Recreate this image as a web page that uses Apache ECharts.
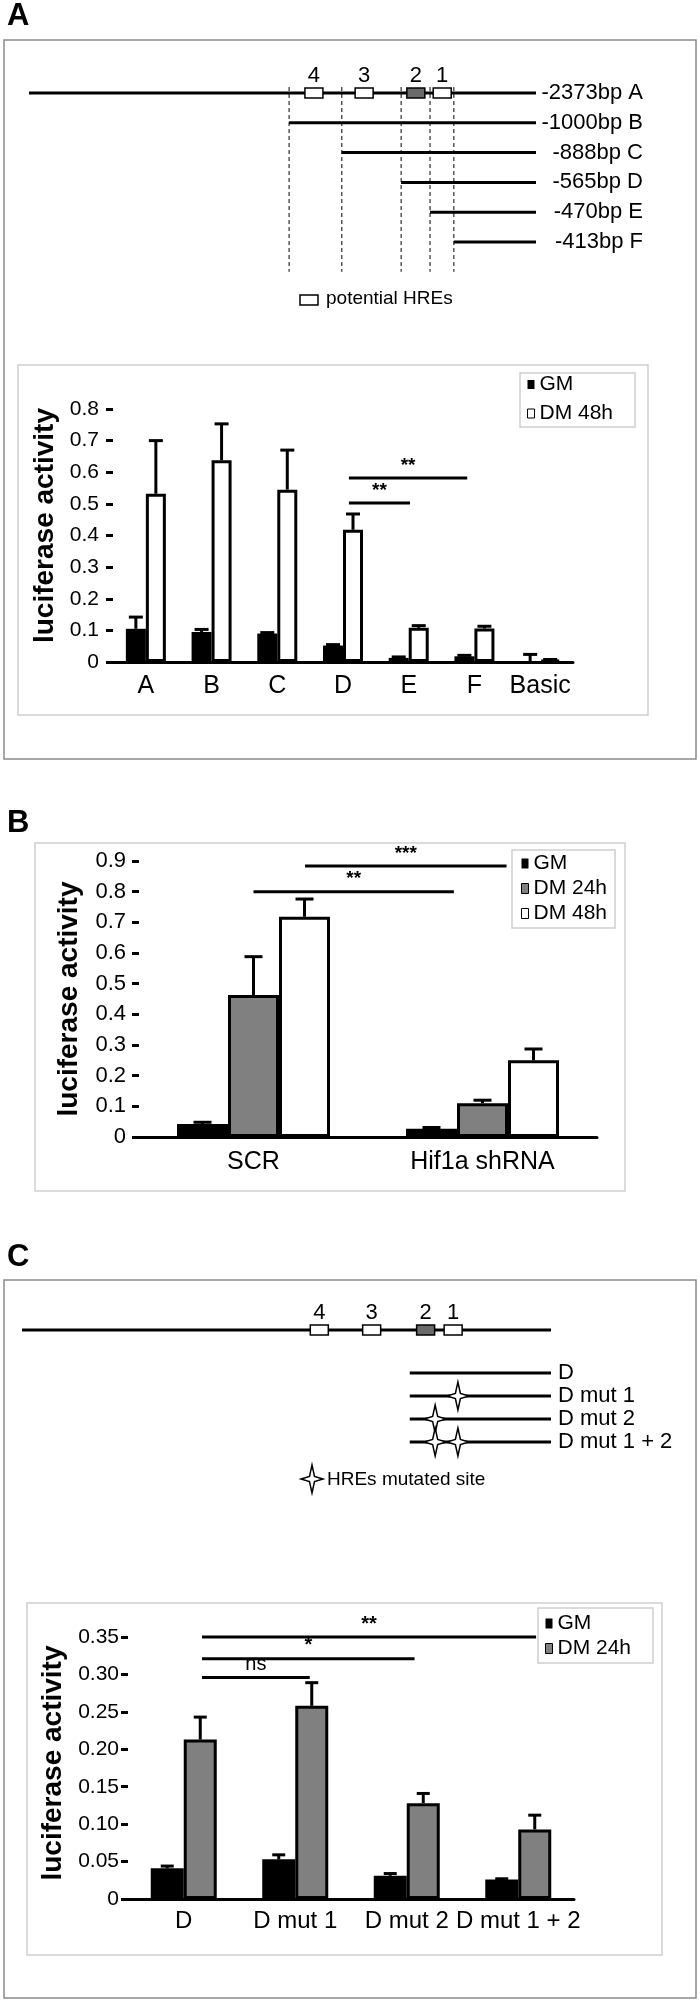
<!DOCTYPE html>
<html lang="en">
<head>
    <meta charset="UTF-8" />
    <title>HRE promoter luciferase</title>
    <script src="https://cdn.jsdelivr.net/npm/echarts@6/dist/echarts.min.js"></script>
    <style>
        body { margin: 0; background: #fff; }
    </style>
</head>
<body>
<div id="main" style="width: 700px;height:2000px;"></div>
<script type="text/javascript">
    // ---- panel A : promoter deletion constructs (schematic position, 0 = -2373bp, 100 = TSS)
    var fragNames = ['-2373bp A', '-1000bp B', '-888bp C', '-565bp D', '-470bp E', '-413bp F'];
    var fragStart = [0, 51.3, 61.7, 73.4, 79.1, 83.8];
    var hreNames = ['4', '3', '2', '1'];
    var hrePos = [56.2, 66.1, 76.3, 81.5];
    var hreCore = [false, false, true, false];

    // ---- panel A : luciferase
    var catsA = ['A', 'B', 'C', 'D', 'E', 'F', 'Basic'];
    var gmA = [0.105, 0.095, 0.09, 0.052, 0.013, 0.018, 0.003];
    var gmAErr = [0.037, 0.008, 0.003, 0.003, 0.003, 0.003, 0.021];
    var dm48A = [0.532, 0.638, 0.545, 0.418, 0.108, 0.106, 0.006];
    var dm48AErr = [0.168, 0.115, 0.125, 0.05, 0.007, 0.007, 0.002];
    // [from, to] in category units, y value, label
    var sigA = [[3.09, 4.89, 0.582, '**'], [3.09, 4.02, 0.503, '**']];

    // ---- panel B
    var catsB = ['SCR', 'Hif1a shRNA'];
    var gmB = [0.042, 0.027];
    var gmBErr = [0.006, 0.004];
    var dm24B = [0.463, 0.11];
    var dm24BErr = [0.125, 0.01];
    var dm48B = [0.718, 0.25];
    var dm48BErr = [0.058, 0.037];
    var sigB = [[0.0, 0.875, 0.80, '**'], [0.225, 1.105, 0.884, '***']];

    // ---- panel C : mutated constructs
    var consNames = ['D', 'D mut 1', 'D mut 2', 'D mut 1 + 2'];
    var consStart = 73.3;
    var mutSites = [[], [1], [2], [1, 2]];
    var mutPos = {1: 82.4, 2: 78.1};

    var catsC = ['D', 'D mut 1', 'D mut 2', 'D mut 1 + 2'];
    var gmC = [0.041, 0.053, 0.031, 0.026];
    var gmCErr = [0.003, 0.006, 0.003, 0.001];
    var dm24C = [0.213, 0.258, 0.128, 0.093];
    var dm24CErr = [0.03, 0.031, 0.013, 0.019];
    var sigC = [[0.164, 1.13, 0.296, 'ns'], [0.164, 2.07, 0.321, '*'], [0.164, 3.16, 0.35, '**']];

    var FONT = '"Liberation Sans", Arial, sans-serif';
    var GREY = '#808080';

    var myChart = echarts.init(document.getElementById('main'), null, {renderer: 'canvas'});

    function starPoints(cx, cy) {
        var h = 14, w = 11, k = 2.5;
        return [[cx, cy - h], [cx + k, cy - k], [cx + w, cy], [cx + k, cy + k],
                [cx, cy + h], [cx - k, cy + k], [cx - w, cy], [cx - k, cy - k]];
    }

    // error bars drawn over the k-th of n bars
    function errSeries(name, grid, vals, errs, k, n, bw, cap) {
        return {
            name: name, type: 'custom', xAxisIndex: grid, yAxisIndex: grid, z: 5,
            data: vals.map(function (v, i) { return [i, v, v + errs[i]]; }),
            renderItem: function (params, api) {
                var p0 = api.coord([api.value(0), api.value(1)]);
                var p1 = api.coord([api.value(0), api.value(2)]);
                var x = p0[0] + (k - (n - 1) / 2) * bw;
                return {
                    type: 'group', children: [
                        {type: 'line', shape: {x1: x, y1: p0[1], x2: x, y2: p1[1]}, style: {stroke: '#000', lineWidth: 3}},
                        {type: 'line', shape: {x1: x - cap / 2, y1: p1[1], x2: x + cap / 2, y2: p1[1]}, style: {stroke: '#000', lineWidth: 3}}
                    ]
                };
            }
        };
    }

    // significance lines
    function sigSeries(grid, rows, fontSize) {
        return {
            name: 'sig' + grid, type: 'custom', xAxisIndex: grid, yAxisIndex: grid, z: 6,
            data: rows.map(function (r) { return [r[0], r[1], r[2]]; }),
            renderItem: function (params, api) {
                var r = rows[params.dataIndex];
                var band = api.size([1, 0])[0];
                var base = api.coord([0, r[2]]);
                var x1 = base[0] + r[0] * band, x2 = base[0] + r[1] * band;
                var bold = r[3] === 'ns' ? 'normal' : 'bold';
                return {
                    type: 'group', children: [
                        {type: 'line', shape: {x1: x1, y1: base[1], x2: x2, y2: base[1]}, style: {stroke: '#000', lineWidth: 3}},
                        {type: 'text', style: {text: r[3], x: (x1 + x2) / 2, y: base[1] - 3, align: 'center', verticalAlign: 'bottom',
                            font: bold + ' ' + fontSize + 'px ' + FONT, fill: '#000'}}
                    ]
                };
            }
        };
    }

    function hreSeries(grid) {
        return {
            name: 'hre' + grid, type: 'custom', xAxisIndex: grid, yAxisIndex: grid, z: 4,
            data: hrePos.map(function (p, i) { return [p, 0]; }),
            renderItem: function (params, api) {
                var c = api.coord([api.value(0), 0]);
                var i = params.dataIndex;
                return {
                    type: 'group', children: [
                        {type: 'rect', shape: {x: c[0] - 9, y: c[1] - 5, width: 18, height: 10},
                            style: {fill: hreCore[i] ? '#6a6a6a' : '#fff', stroke: '#000', lineWidth: 1.5}},
                        {type: 'text', style: {text: hreNames[i], x: c[0], y: c[1] - 17, align: 'center', verticalAlign: 'middle',
                            font: '22px ' + FONT, fill: '#000'}}
                    ]
                };
            }
        };
    }

    var axisBase = {
        axisLine: {lineStyle: {color: '#000', width: 3}},
        splitLine: {show: false}
    };

    function catAxis(grid, cats, size, margin) {
        return echarts.util.merge({
            type: 'category', gridIndex: grid, data: cats,
            axisTick: {length: 9, lineStyle: {width: 3, color: '#000'}},
            axisLabel: {color: '#000', fontSize: size, fontFamily: FONT, margin: margin, interval: 0}
        }, axisBase, true);
    }

    function valAxis(grid, max, interval, size, margin, gap, pad, fmt) {
        return echarts.util.merge({
            type: 'value', gridIndex: grid, min: 0, max: max, interval: interval,
            name: 'luciferase activity', nameLocation: 'middle', nameGap: gap, nameRotate: 90,
            nameTextStyle: {color: '#000', fontSize: 28, fontWeight: 'bold', fontFamily: FONT, padding: pad},
            axisTick: {show: true, length: 7, lineStyle: {width: 3, color: '#000'}},
            axisLabel: {color: '#000', fontSize: size, fontFamily: FONT, margin: margin, formatter: fmt}
        }, axisBase, true);
    }

    var hidX = function (g) { return {type: 'value', gridIndex: g, min: 0, max: 100, show: false}; };

    var option = {
        animation: false,
        textStyle: {fontFamily: FONT},
        grid: [
            {left: 29, width: 507, top: 93, height: 149},        // 0 diagram A
            {left: 113, width: 460, top: 409, height: 253},      // 1 chart A
            {left: 139, width: 458, top: 861, height: 276},      // 2 chart B
            {left: 22, width: 529, top: 1320, height: 20},       // 3 diagram C promoter
            {left: 22, width: 529, top: 1373, height: 69},       // 4 diagram C constructs
            {left: 128, width: 446, top: 1637, height: 262}      // 5 chart C
        ],
        xAxis: [
            hidX(0),
            catAxis(1, catsA, 25, 12),
            catAxis(2, catsB, 25, 13),
            hidX(3),
            hidX(4),
            catAxis(5, catsC, 24, 10)
        ],
        yAxis: [
            {type: 'value', gridIndex: 0, min: 0, max: 5, inverse: true, show: false},
            valAxis(1, 0.8, 0.1, 21, 14, 50, [0, 0, 0, 20]),
            valAxis(2, 0.9, 0.1, 22, 13, 56, [0, 0, 0, 0]),
            {type: 'value', gridIndex: 3, min: -1, max: 1, inverse: true, show: false},
            {type: 'value', gridIndex: 4, min: 0, max: 3, inverse: true, show: false},
            valAxis(5, 0.35, 0.05, 21, 9, 58, [0, 0, 0, 10], function (v) { return v === 0 ? '0' : v.toFixed(2); })
        ],
        legend: [
            {
                orient: 'vertical', left: 520, top: 373, padding: [1, 22, 3, 7], itemGap: 8,
                itemWidth: 7, itemHeight: 9, borderColor: '#cfcfcf', borderWidth: 1.5, backgroundColor: '#fff',
                selectedMode: false, textStyle: {fontSize: 21, color: '#000', fontFamily: FONT},
                data: [
                    {name: 'GM', icon: 'rect', itemStyle: {color: '#000', borderWidth: 0}},
                    {name: 'DM 48h', icon: 'rect', itemStyle: {color: '#fff', borderColor: '#000', borderWidth: 1}}
                ]
            },
            {
                orient: 'vertical', left: 512, top: 850, padding: [3, 8, 4, 9], itemGap: 4,
                itemWidth: 7, itemHeight: 10, borderColor: '#cfcfcf', borderWidth: 1.5, backgroundColor: '#fff',
                selectedMode: false, textStyle: {fontSize: 21, color: '#000', fontFamily: FONT},
                data: [
                    {name: 'GM', icon: 'rect', itemStyle: {color: '#000', borderWidth: 0}},
                    {name: 'DM 24h', icon: 'rect', itemStyle: {color: GREY, borderColor: '#000', borderWidth: 1}},
                    {name: 'DM 48h', icon: 'rect', itemStyle: {color: '#fff', borderColor: '#000', borderWidth: 1}}
                ]
            },
            {
                orient: 'vertical', left: 538, top: 1608, padding: [5, 22, 4, 7], itemGap: 4,
                itemWidth: 7, itemHeight: 10, borderColor: '#cfcfcf', borderWidth: 1.5, backgroundColor: '#fff',
                selectedMode: false, textStyle: {fontSize: 21, color: '#000', fontFamily: FONT},
                data: [
                    {name: 'GM', icon: 'rect', itemStyle: {color: '#000', borderWidth: 0}},
                    {name: 'DM 24h', icon: 'rect', itemStyle: {color: GREY, borderColor: '#000', borderWidth: 1}}
                ]
            }
        ],
        graphic: [
            // panel frames
            {type: 'rect', z: 0, shape: {x: 4, y: 40, width: 692, height: 719}, style: {fill: 'none', stroke: '#8a8a8a', lineWidth: 1.5}},
            {type: 'rect', z: 0, shape: {x: 18, y: 365, width: 630, height: 350}, style: {fill: 'none', stroke: '#d0d0d0', lineWidth: 1.5}},
            {type: 'rect', z: 0, shape: {x: 35, y: 843, width: 590, height: 348}, style: {fill: 'none', stroke: '#d0d0d0', lineWidth: 1.5}},
            {type: 'rect', z: 0, shape: {x: 4, y: 1280, width: 692, height: 718}, style: {fill: 'none', stroke: '#8a8a8a', lineWidth: 1.5}},
            {type: 'rect', z: 0, shape: {x: 27, y: 1603, width: 635, height: 352}, style: {fill: 'none', stroke: '#d0d0d0', lineWidth: 1.5}},
            // panel letters
            {type: 'text', style: {text: 'A', x: 7, y: 16, verticalAlign: 'middle', font: 'bold 31px ' + FONT, fill: '#000'}},
            {type: 'text', style: {text: 'B', x: 7, y: 823, verticalAlign: 'middle', font: 'bold 31px ' + FONT, fill: '#000'}},
            {type: 'text', style: {text: 'C', x: 7, y: 1257, verticalAlign: 'middle', font: 'bold 31px ' + FONT, fill: '#000'}},
            // diagram keys
            {type: 'rect', shape: {x: 300, y: 295, width: 18, height: 10}, style: {fill: '#fff', stroke: '#000', lineWidth: 1.5}},
            {type: 'text', style: {text: 'potential HREs', x: 326, y: 299, verticalAlign: 'middle', font: '19px ' + FONT, fill: '#000'}},
            {type: 'polygon', shape: {points: starPoints(312, 1479)}, style: {fill: '#fff', stroke: '#000', lineWidth: 1.5}},
            {type: 'text', style: {text: 'HREs mutated site', x: 327, y: 1480, verticalAlign: 'middle', font: '19px ' + FONT, fill: '#000'}}
        ],
        series: [
            // diagram A: dashed guides at fragment starts
            {
                name: 'guides', type: 'custom', xAxisIndex: 0, yAxisIndex: 0, z: 1,
                data: fragStart.slice(1).map(function (s) { return [s, 0]; }),
                renderItem: function (params, api) {
                    var a = api.coord([api.value(0), -0.2]);
                    var b = api.coord([api.value(0), 6.0]);
                    return {type: 'line', shape: {x1: a[0], y1: a[1], x2: b[0], y2: b[1]},
                        style: {stroke: '#000', lineWidth: 1, lineDash: [4, 3]}};
                }
            },
            // diagram A: fragments
            {
                name: 'fragments', type: 'custom', xAxisIndex: 0, yAxisIndex: 0, z: 2,
                data: fragStart.map(function (s, i) { return [s, i]; }),
                renderItem: function (params, api) {
                    var s = api.coord([api.value(0), api.value(1)]);
                    var e = api.coord([100, api.value(1)]);
                    return {
                        type: 'group', children: [
                            {type: 'line', shape: {x1: s[0], y1: s[1], x2: e[0], y2: e[1]}, style: {stroke: '#000', lineWidth: 3}},
                            {type: 'text', style: {text: fragNames[params.dataIndex], x: e[0] + 107, y: e[1], align: 'right',
                                verticalAlign: 'middle', font: '22px ' + FONT, fill: '#000'}}
                        ]
                    };
                }
            },
            hreSeries(0),
            // chart A
            {name: 'GM', type: 'bar', xAxisIndex: 1, yAxisIndex: 1, data: gmA, barWidth: 20, barGap: '0%',
                itemStyle: {color: '#000'}},
            {name: 'DM 48h', type: 'bar', xAxisIndex: 1, yAxisIndex: 1, data: dm48A, barWidth: 20, barGap: '0%',
                itemStyle: {color: '#fff', borderColor: '#000', borderWidth: 3}},
            errSeries('errA0', 1, gmA, gmAErr, 0, 2, 20, 14),
            errSeries('errA1', 1, dm48A, dm48AErr, 1, 2, 20, 14),
            sigSeries(1, sigA, 19),
            // chart B
            {name: 'GM', type: 'bar', xAxisIndex: 2, yAxisIndex: 2, data: gmB, barWidth: 51, barGap: '0%',
                itemStyle: {color: '#000'}},
            {name: 'DM 24h', type: 'bar', xAxisIndex: 2, yAxisIndex: 2, data: dm24B, barWidth: 51, barGap: '0%',
                itemStyle: {color: GREY, borderColor: '#000', borderWidth: 3}},
            {name: 'DM 48h', type: 'bar', xAxisIndex: 2, yAxisIndex: 2, data: dm48B, barWidth: 51, barGap: '0%',
                itemStyle: {color: '#fff', borderColor: '#000', borderWidth: 3}},
            errSeries('errB0', 2, gmB, gmBErr, 0, 3, 51, 18),
            errSeries('errB1', 2, dm24B, dm24BErr, 1, 3, 51, 18),
            errSeries('errB2', 2, dm48B, dm48BErr, 2, 3, 51, 18),
            sigSeries(2, sigB, 19),
            // diagram C: promoter
            {
                name: 'promoterC', type: 'custom', xAxisIndex: 3, yAxisIndex: 3, z: 2,
                data: [[0, 0]],
                renderItem: function (params, api) {
                    var s = api.coord([0, 0]), e = api.coord([100, 0]);
                    return {type: 'line', shape: {x1: s[0], y1: s[1], x2: e[0], y2: e[1]}, style: {stroke: '#000', lineWidth: 3}};
                }
            },
            hreSeries(3),
            // diagram C: constructs
            {
                name: 'constructs', type: 'custom', xAxisIndex: 4, yAxisIndex: 4, z: 2,
                data: consNames.map(function (n, i) { return [consStart, i]; }),
                renderItem: function (params, api) {
                    var i = params.dataIndex;
                    var s = api.coord([consStart, i]), e = api.coord([100, i]);
                    var kids = [
                        {type: 'line', shape: {x1: s[0], y1: s[1], x2: e[0], y2: e[1]}, style: {stroke: '#000', lineWidth: 3}},
                        {type: 'text', style: {text: consNames[i], x: e[0] + 7, y: e[1], align: 'left', verticalAlign: 'middle',
                            font: '22px ' + FONT, fill: '#000'}}
                    ];
                    mutSites[i].forEach(function (m) {
                        var c = api.coord([mutPos[m], i]);
                        kids.push({type: 'polygon', shape: {points: starPoints(c[0], c[1])},
                            style: {fill: '#fff', stroke: '#000', lineWidth: 1.5}});
                    });
                    return {type: 'group', children: kids};
                }
            },
            // chart C
            {name: 'GM', type: 'bar', xAxisIndex: 5, yAxisIndex: 5, data: gmC, barWidth: 33, barGap: '0%',
                itemStyle: {color: '#000'}},
            {name: 'DM 24h', type: 'bar', xAxisIndex: 5, yAxisIndex: 5, data: dm24C, barWidth: 33, barGap: '0%',
                itemStyle: {color: GREY, borderColor: '#000', borderWidth: 3}},
            errSeries('errC0', 5, gmC, gmCErr, 0, 2, 33, 13),
            errSeries('errC1', 5, dm24C, dm24CErr, 1, 2, 33, 13),
            sigSeries(5, sigC, 20)
        ]
    };
    myChart.setOption(option);
</script>

</body>
</html>
